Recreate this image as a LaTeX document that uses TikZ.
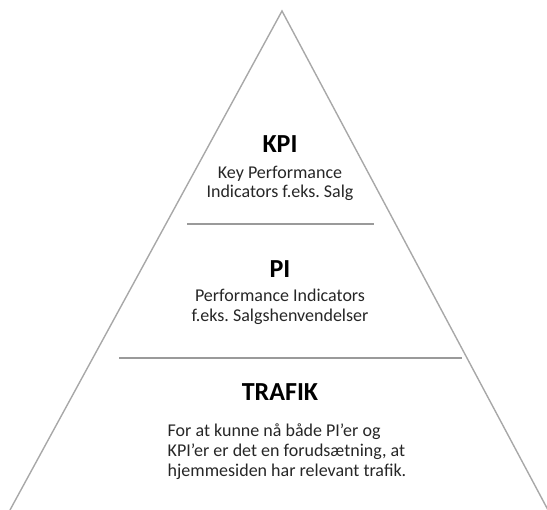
\documentclass[tikz,border=0pt]{standalone}
\usepackage{fontspec}
\setmainfont{Carlito}
\frenchspacing
\definecolor{edgegray}{HTML}{A8A8A8}
\definecolor{rulegray}{HTML}{9A9A9A}
\definecolor{txt}{HTML}{262626}
\begin{document}
\begin{tikzpicture}[x=1pt,y=-1pt,
  side/.style={draw=edgegray,line width=1.4pt},
  divider/.style={draw=rulegray,line width=2.4pt},
  title/.style={inner sep=0pt,anchor=base,font=\fontsize{26}{30}\selectfont\bfseries,text=black},
  body/.style={inner sep=0pt,anchor=base,font=\fontsize{18}{20}\selectfont,text=txt}]
\useasboundingbox (0,0) rectangle (547,510);
\coordinate (apex) at (282,11);
\coordinate (bl) at (10,510);
\coordinate (br) at (548,510);
\draw[side] (bl) -- (apex) -- (br);
\coordinate (d1a) at (187,224);
\coordinate (d1b) at (374,224);
\coordinate (d2a) at (119,358);
\coordinate (d2b) at (462,358);
\draw[divider] (d1a) -- (d1b);
\draw[divider] (d2a) -- (d2b);
\node[title] (kpi) at (280,153) {KPI};
\node[body] (kpi1) at (280,179) {Key Performance};
\node[body] (kpi2) at (280,198) {Indicators f.eks. Salg};
\node[title] (pi) at (280,278) {PI};
\node[body] (pi1) at (280,302) {Performance Indicators};
\node[body] (pi2) at (280,322) {f.eks. Salgshenvendelser};
\node[title] (trafik) at (280,401) {TRAFIK};
\node[body,anchor=base west] (t1) at (167.5,437) {For at kunne nå både PI’er og};
\node[body,anchor=base west] (t2) at (167.5,457) {KPI’er er det en forudsætning, at};
\node[body,anchor=base west] (t3) at (167.5,477) {hjemmesiden har relevant trafik.};
\end{tikzpicture}
\end{document}
